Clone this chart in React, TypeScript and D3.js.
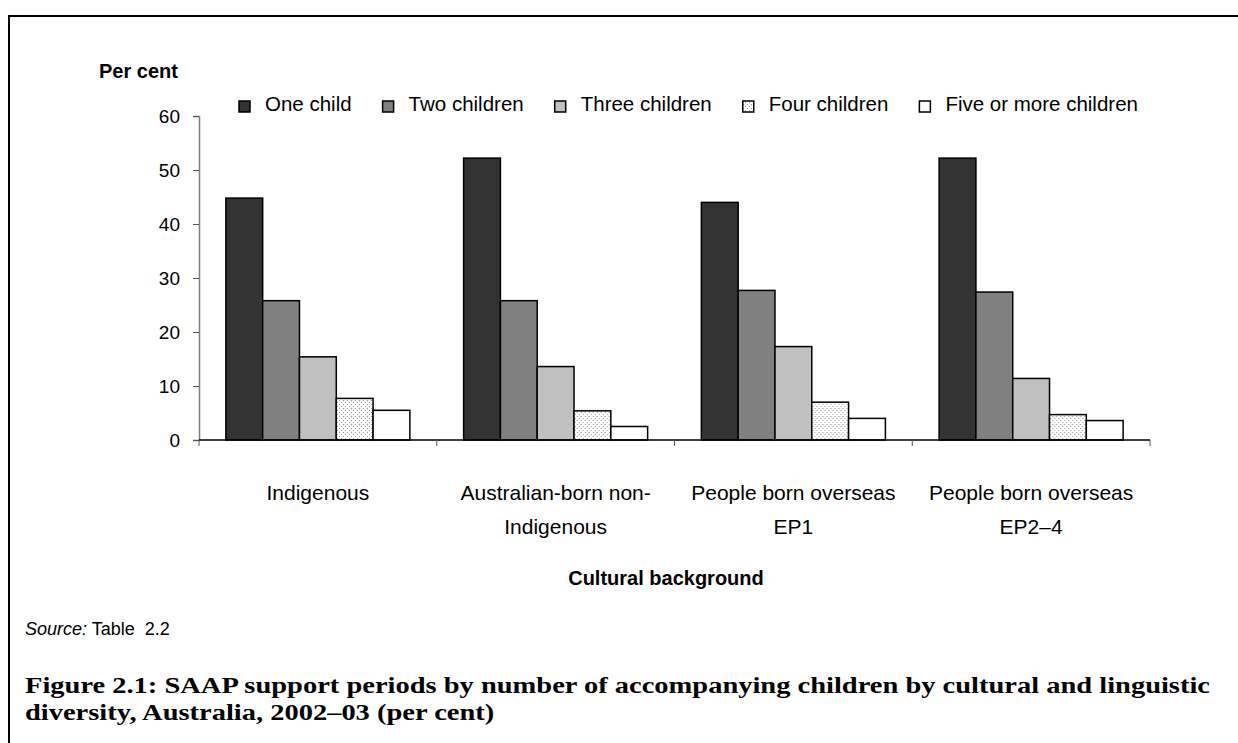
import { useEffect, useRef } from "react";
import * as d3 from "d3";

// categories, wrapped as in the original
const categories = ["Indigenous", "Australian-born non-Indigenous", "People born overseas EP1", "People born overseas EP2–4"];
const categoryLines = [["Indigenous"], ["Australian-born non-", "Indigenous"], ["People born overseas", "EP1"], ["People born overseas", "EP2–4"]];

const seriesNames = ["One child", "Two children", "Three children", "Four children", "Five or more children"];
const oneChild = [44.8, 52.2, 44.0, 52.2];
const twoChildren = [25.8, 25.8, 27.7, 27.4];
const threeChildren = [15.4, 13.6, 17.3, 11.4];
const fourChildren = [7.7, 5.4, 7.0, 4.7];
const fiveOrMore = [5.5, 2.5, 4.0, 3.6];
const yTicks = [0, 10, 20, 30, 40, 50, 60];

const captionLines = [
  "Figure 2.1: SAAP support periods by number of accompanying children by cultural and linguistic",
  "diversity, Australia, 2002–03 (per cent)",
];

const fills = ["#333333", "#808080", "#c0c0c0", "url(#dots)", "#ffffff"];

const W = 1238;
const H = 743;
const plot = { left: 199, right: 1150, top: 116, bottom: 440 };
const sans = "'Liberation Sans', Arial, sans-serif";

const App = () => {
  const svgRef = useRef(null);

  useEffect(() => {
    const svg = d3.select(svgRef.current);
    svg.selectAll("*").remove();

    const defs = svg.append("defs");
    const pat = defs.append("pattern")
      .attr("id", "dots")
      .attr("width", 4).attr("height", 4)
      .attr("patternUnits", "userSpaceOnUse");
    pat.append("rect").attr("width", 4).attr("height", 4).attr("fill", "#ffffff");
    pat.append("rect").attr("x", 0).attr("y", 0).attr("width", 1).attr("height", 1).attr("fill", "#9a9a9a");
    pat.append("rect").attr("x", 2).attr("y", 2).attr("width", 1).attr("height", 1).attr("fill", "#9a9a9a");

    // frame
    svg.append("path")
      .attr("d", `M9,${H} V16 H${W}`)
      .attr("fill", "none").attr("stroke", "#000").attr("stroke-width", 2);

    const series = [oneChild, twoChildren, threeChildren, fourChildren, fiveOrMore];
    const rows = categories.map((c, i) => ({ cat: c, values: series.map(s => s[i]) }));

    const x0 = d3.scaleBand().domain(categories).range([plot.left, plot.right]).padding(0);
    const x1 = d3.scaleBand().domain(seriesNames).range([0, x0.bandwidth()]).paddingInner(0).paddingOuter(0.73);
    const y = d3.scaleLinear().domain([0, 60]).range([plot.bottom, plot.top]);

    // bars
    const groups = svg.append("g").selectAll("g").data(rows).join("g")
      .attr("transform", d => `translate(${x0(d.cat)},0)`);
    groups.selectAll("rect").data(d => d.values.map((v, k) => ({ v, k })))
      .join("rect")
      .attr("x", d => x1(seriesNames[d.k]))
      .attr("y", d => y(d.v))
      .attr("width", x1.bandwidth())
      .attr("height", d => y(0) - y(d.v))
      .attr("fill", d => fills[d.k])
      .attr("stroke", "#000")
      .attr("stroke-width", 1.5);

    // y axis
    svg.append("g")
      .attr("transform", `translate(${plot.left},0)`)
      .call(d3.axisLeft(y).tickValues(yTicks).tickSize(6).tickPadding(13))
      .call(g => g.select(".domain").attr("stroke", "#808080").attr("stroke-width", 1.5))
      .call(g => g.selectAll(".tick line").attr("stroke", "#555"))
      .call(g => g.selectAll(".tick text")
        .attr("font-family", sans).attr("font-size", 19).attr("fill", "#000"));

    // x axis
    const xBounds = [...categories.map(c => x0(c)), plot.right];
    const xa = svg.append("g");
    xa.append("line")
      .attr("x1", plot.left).attr("x2", plot.right)
      .attr("y1", y(0)).attr("y2", y(0))
      .attr("stroke", "#000").attr("stroke-width", 1.5);
    xa.selectAll(".xt").data(xBounds).join("line")
      .attr("x1", d => d).attr("x2", d => d)
      .attr("y1", y(0)).attr("y2", y(0) + 6)
      .attr("stroke", "#555");

    // category labels
    const cl = svg.append("g").selectAll("text").data(categories).join("text")
      .attr("x", d => x0(d) + x0.bandwidth() / 2)
      .attr("y", 500)
      .attr("text-anchor", "middle")
      .attr("font-family", sans).attr("font-size", 21);
    cl.selectAll("tspan").data((d, i) => categoryLines[i]).join("tspan")
      .attr("x", function () { return (this.parentNode as any).getAttribute("x"); })
      .attr("dy", (d, i) => (i === 0 ? 0 : 34))
      .text(d => d);

    // axis titles
    svg.append("text").attr("x", 99).attr("y", 78)
      .attr("font-family", sans).attr("font-size", 20).attr("font-weight", "bold")
      .text("Per cent");
    svg.append("text").attr("x", 666).attr("y", 585)
      .attr("text-anchor", "middle")
      .attr("font-family", sans).attr("font-size", 20).attr("font-weight", "bold")
      .text("Cultural background");

    // legend
    const lg = svg.append("g").attr("transform", "translate(239,0)");
    let lx = 0;
    seriesNames.forEach((name, k) => {
      lg.append("rect")
        .attr("x", lx).attr("y", 101).attr("width", 11).attr("height", 11)
        .attr("fill", fills[k]).attr("stroke", "#000").attr("stroke-width", 1.5);
      const t = lg.append("text")
        .attr("x", lx + 26).attr("y", 111)
        .attr("font-family", sans).attr("font-size", 20.5)
        .text(name);
      lx += 26 + (t.node() as any).getComputedTextLength() + 31;
    });

    // source
    const src = svg.append("text").attr("x", 25).attr("y", 635)
      .attr("font-family", sans).attr("font-size", 18)
      .style("white-space", "pre");
    src.append("tspan").attr("font-style", "italic").text("Source:");
    src.append("tspan").text(" Table  2.2");

    // caption (Book Antiqua-like: serif bold, widened to the original line width)
    const caps = svg.append("g").selectAll("text").data(captionLines).join("text")
      .attr("x", 25)
      .attr("y", (d, i) => 693 + i * 27)
      .attr("font-family", "'Liberation Serif', 'Times New Roman', serif")
      .attr("font-weight", "bold").attr("font-size", 24)
      .text(d => d);
    const nat = caps.nodes().map((n: any) => n.getComputedTextLength());
    const k = 1185 / nat[0];
    caps.attr("textLength", (d, i) => nat[i] * k).attr("lengthAdjust", "spacingAndGlyphs");
  }, []);

  return (
    <svg ref={svgRef} width={W} height={H}
      style={{ position: "absolute", left: 0, top: 0, background: "#fff" }} />
  );
};

export default App;
